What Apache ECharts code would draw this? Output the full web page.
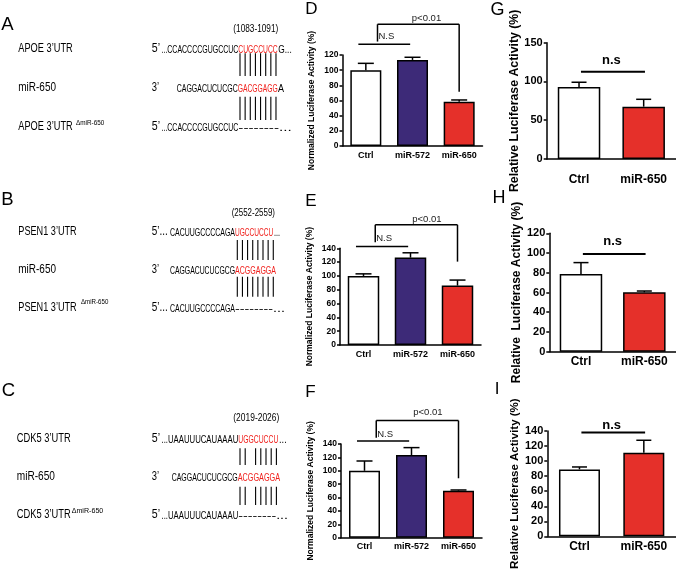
<!DOCTYPE html>
<html><head><meta charset="utf-8">
<script src="https://cdn.jsdelivr.net/npm/echarts@6/dist/echarts.min.js"></script>
<style>html,body{margin:0;padding:0;background:#fff}#c{width:676px;height:571px}</style>
</head><body><div id="c"></div>
<script>
// ---------- DATA ----------
const cats3 = ['Ctrl', 'miR-572', 'miR-650'];
const cats2 = ['Ctrl', 'miR-650'];
const dMean = [100, 113.5, 58.4], dErr = [9, 3.5, 2.3];
const eMean = [100, 126.5, 86],   eErr = [3, 7, 8];
const fMean = [100, 123.6, 70.3], fErr = [14.6, 11, 1];
const gMean = [93, 67.5], gErr = [6, 9.5];
const hMean = [78.8, 60.2], hErr = [11.5, 1.3];
const iMean = [89, 111], iErr = [3.2, 16.7];
const yNameNorm = 'Normalized Luciferase Activity (%)';
const yNameRel = 'Relative Luciferase Activity (%)';
const yNameRelH = 'Relative  Luciferase Activity (%)';
// significance annotations (category fraction, values)
const sig3 = {
  D: {ns: [-0.16, 0.95, 134.2], nsText: [0.27, 145], p: [0.25, 2, 160.5, 137.7, 71.6], pText: [1.3, 168.5]},
  E: {ns: [-0.16, 0.95, 142.5], nsText: [0.27, 155], p: [0.25, 2, 174, 148.8, 120.7], pText: [1.35, 182.6]},
  F: {ns: [-0.16, 0.95, 144.5], nsText: [0.27, 154.7], p: [0.25, 2, 175, 149.5, 88.8], pText: [1.35, 187.3]}
};
const sig2 = {
  G: {ns: [0.03, 1.02, 112.6], nsText: [0.5, 127.7]},
  H: {ns: [0.03, 1.02, 99], nsText: [0.5, 111.6]},
  I: {ns: [0.03, 1.02, 138], nsText: [0.5, 147.3]}
};

// ---------- STYLE / LAYOUT ----------
const FF = '"Liberation Sans", Arial, sans-serif';
const C3 = ['#ffffff', '#3d2a78', '#e5302a'];
const C2 = ['#ffffff', '#e5302a'];
const panels = [
  {key:'D', cats:cats3, mean:dMean, err:dErr, colors:C3, grid:{left:342.5, top:55, width:140, height:91}, max:120, interval:20, barW:31, cap:8, tickFont:8.5, catFont:9, catMargin:5, yName:yNameNorm, nameFont:8.5, nameGap:26},
  {key:'E', cats:cats3, mean:eMean, err:eErr, colors:C3, grid:{left:340, top:248.3, width:141, height:96.7}, max:140, interval:20, barW:31.5, cap:8, tickFont:8.5, catFont:9, catMargin:5, yName:yNameNorm, nameFont:8.5, nameGap:26},
  {key:'F', cats:cats3, mean:fMean, err:fErr, colors:C3, grid:{left:341, top:444, width:141, height:93.7}, max:140, interval:20, barW:31, cap:8, tickFont:8.5, catFont:9, catMargin:4, yName:yNameNorm, nameFont:8.5, nameGap:26},
  {key:'G', cats:cats2, mean:gMean, err:gErr, colors:C2, grid:{left:546.7, top:42.7, width:131, height:116.3}, max:150, interval:50, barW:42.5, cap:7.5, tickFont:11, catFont:12, catMargin:15, yName:yNameRel, nameFont:12.3, nameGap:25},
  {key:'H', cats:cats2, mean:hMean, err:hErr, colors:C2, grid:{left:549.3, top:233.3, width:128, height:118.4}, max:120, interval:20, barW:42.5, cap:7.5, tickFont:11, catFont:12, catMargin:4, yName:yNameRelH, nameFont:12, nameGap:27},
  {key:'I', cats:cats2, mean:iMean, err:iErr, colors:C2, grid:{left:547.3, top:431, width:130, height:117.3}, max:140, interval:20, barW:41, cap:7.5, tickFont:11, catFont:12, catMargin:4, yName:yNameRel, nameFont:11.5, nameGap:25}
];

const chart = echarts.init(document.getElementById('c'), null, {renderer:'canvas'});
const grids = [], xAxes = [], yAxes = [], series = [];
panels.forEach((p, k) => {
  grids.push(Object.assign({containLabel:false}, p.grid));
  xAxes.push({type:'category', gridIndex:k, data:p.cats,
    axisLine:{show:true, lineStyle:{color:'#000', width:1.5}}, axisTick:{show:false},
    axisLabel:{color:'#000', fontWeight:'bold', fontSize:p.catFont, margin:p.catMargin, fontFamily:FF, interval:0}});
  yAxes.push({type:'value', gridIndex:k, min:0, max:p.max, interval:p.interval,
    splitLine:{show:false},
    axisLine:{show:true, lineStyle:{color:'#000', width:1.5}},
    axisTick:{show:true, length:3, lineStyle:{color:'#000', width:1.5}},
    axisLabel:{color:'#000', fontWeight:'bold', fontSize:p.tickFont, margin:4, fontFamily:FF},
    name:p.yName, nameLocation:'middle', nameRotate:90, nameGap:p.nameGap,
    nameTextStyle:{color:'#000', fontWeight:'bold', fontSize:p.nameFont, fontFamily:FF}});
  series.push({type:'bar', xAxisIndex:k, yAxisIndex:k, barWidth:p.barW, animation:false, silent:true,
    itemStyle:{borderColor:'#000', borderWidth:1.5},
    data:p.mean.map((v, i) => ({value:v, itemStyle:{color:p.colors[i], borderColor:'#000', borderWidth:1.5}}))});
  const cap = p.cap;
  series.push({type:'custom', xAxisIndex:k, yAxisIndex:k, animation:false, silent:true, z:5,
    encode:{x:0, y:1},
    data:p.mean.map((v, i) => [i, v, p.err[i]]),
    renderItem:(params, api) => {
      const i = api.value(0), m = api.value(1), e = api.value(2);
      const top = api.coord([i, m + e]), base = api.coord([i, m]);
      const st = {stroke:'#000', lineWidth:1.5};
      return {type:'group', children:[
        {type:'line', shape:{x1:top[0], y1:base[1], x2:top[0], y2:top[1]}, style:st},
        {type:'line', shape:{x1:top[0]-cap, y1:top[1], x2:top[0]+cap, y2:top[1]}, style:st}
      ]};
    }});
});
chart.setOption({animation:false, backgroundColor:'#fff', grid:grids, xAxis:xAxes, yAxis:yAxes, series:series});

// ---------- GRAPHICS ----------
const g = [];
const mctx = document.createElement('canvas').getContext('2d');
function txt(text, x, y, size, color, opts) {
  opts = opts || {};
  const font = (opts.weight || 'normal') + ' ' + size + 'px ' + FF;
  const el = {type:'text', x:x, y:y, silent:true,
    style:{text:text, font:font, fill:color, textAlign:opts.align || 'left', align:opts.align || 'left',
      textVerticalAlign:'middle', verticalAlign:'middle'}};
  if (opts.x1 !== undefined) {
    mctx.font = font;
    const w = mctx.measureText(text).width;
    el.scaleX = (opts.x1 - x) / w;
  }
  return el;
}
function line(x1, y1, x2, y2, w) {
  return {type:'line', silent:true, shape:{x1:x1, y1:y1, x2:x2, y2:y2}, style:{stroke:'#000', lineWidth:w || 1.5}};
}
// panel letters
[['A',7.5,25,18.5],['B',7.5,200,18.5],['C',8.5,391,18.5],['D',311.5,9.5,17],['E',311,201,17],['F',310.5,392.5,17],
 ['G',497.5,10,18],['H',499,198.5,18],['I',497,389,17]].forEach(l => g.push(txt(l[0], l[1], l[2], l[3], '#000', {align:'center'})));

const RED = '#f0201c';
const SQ = 10.8;
// sequence diagrams: [text, x0, x1, y, size, color]
const seqText = [
  // A
  ['APOE 3’UTR', 18.3, 72.7, 48.3, 13, '#000'],
  ['miR-650', 18.3, 56, 87.3, 13, '#000'],
  ['APOE 3’UTR', 18.3, 72.7, 126, 13, '#000'],
  ['ΔmiR-650', 76, 104.3, 122.5, 7.5, '#000'],
  ['(1083-1091)', 233.3, 278.3, 29.3, 10.5, '#000'],
  ['5’', 151.7, 160, 48.3, 13, '#000'], ['...CCACCCCGUGCCUC', 161.5, 238.3, 50, SQ, '#000'], ['CUGCCUCC', 238.3, 277.7, 50, SQ, RED], ['G...', 278.3, 291.7, 50, SQ, '#000'],
  ['3’', 151.7, 159, 87.3, 13, '#000'], ['CAGGACUCUCGC', 176.7, 237.7, 89, SQ, '#000'], ['GACGGAGG', 237.7, 277.7, 89, SQ, RED], ['A', 278, 284, 89, SQ, '#000'],
  ['5’', 151.7, 160, 126, 13, '#000'], ['...CCACCCCGUGCCUC', 161.5, 238.3, 127.7, SQ, '#000'], ['--------...', 238.3, 291.7, 127.7, SQ, '#000'],
  // B
  ['PSEN1 3’UTR', 18.3, 76.7, 231.7, 13, '#000'],
  ['miR-650', 18.3, 56, 269.3, 13, '#000'],
  ['PSEN1 3’UTR', 18.3, 76.7, 307.7, 13, '#000'],
  ['ΔmiR-650', 81, 108.3, 301.7, 7.5, '#000'],
  ['(2552-2559)', 231.7, 275, 213.3, 10.5, '#000'],
  ['5’...', 151.7, 167.7, 231.7, 13, '#000'], ['CACUUGCCCCAGA', 170, 235, 233.4, SQ, '#000'], ['UGCCUCCU', 235, 273.3, 233.4, SQ, RED], ['...', 274, 280, 233.4, SQ, '#000'],
  ['3’', 151.7, 159, 269.3, 13, '#000'], ['CAGGACUCUCGCG', 170, 235, 271, SQ, '#000'], ['ACGGAGGA', 235, 276, 271, SQ, RED],
  ['5’...', 151.7, 167.7, 307.7, 13, '#000'], ['CACUUGCCCCAGA', 170, 235, 309.4, SQ, '#000'], ['--------...', 235, 285, 309.4, SQ, '#000'],
  // C
  ['CDK5 3’UTR', 16.7, 70.7, 438.3, 13, '#000'],
  ['miR-650', 16.7, 55, 476.5, 13, '#000'],
  ['CDK5 3’UTR', 16.7, 70.7, 514.3, 13, '#000'],
  ['ΔmiR-650', 71.7, 103.3, 510.5, 7.5, '#000'],
  ['(2019-2026)', 233.3, 279.3, 418.3, 10.5, '#000'],
  ['5’', 151.7, 160, 438.3, 13, '#000'], ['...UAAUUUCAUAAAU', 161.5, 238.3, 440, SQ, '#000'], ['UGGCUCCU', 238.3, 278.3, 440, SQ, RED], ['...', 279, 286.7, 440, SQ, '#000'],
  ['3’', 151.7, 159, 476.5, 13, '#000'], ['CAGGACUCUCGCG', 171.7, 237.7, 478.2, SQ, '#000'], ['ACGGAGGA', 237.7, 280, 478.2, SQ, RED],
  ['5’', 151.7, 160, 514.3, 13, '#000'], ['...UAAUUUCAUAAAU', 161.5, 238.3, 516, SQ, '#000'], ['--------...', 238.3, 288, 516, SQ, '#000']
];
seqText.forEach(t => g.push(txt(t[0], t[1], t[3], t[4], t[5], {x1:t[2]})));
// pairing bars: [startX, step, indices, yTop1, yBot1, yTop2, yBot2]
const pairBars = [
  [240, 5.14, [0,1,2,3,4,5,6,7], 53.3, 76, 96.7, 120],
  [237.3, 5.14, [0,1,2,3,4,5,6,7], 240, 260, 276.7, 296.7],
  [240, 5.2, [0,1,3,4,5,6,7], 448.3, 465, 486.7, 505]
];
pairBars.forEach(b => b[2].forEach(i => {
  const x = b[0] + b[1] * i;
  g.push(line(x, b[3], x, b[4], 1.1));
  g.push(line(x, b[5], x, b[6], 1.1));
}));

// significance annotations
function px(k, c, v) {
  const a = chart.convertToPixel({seriesIndex:k*2}, [0, v]);
  const b = chart.convertToPixel({seriesIndex:k*2}, [1, v]);
  return [a[0] + c * (b[0] - a[0]), a[1]];
}
['D','E','F'].forEach((key, k) => {
  const s = sig3[key];
  const a = px(k, s.ns[0], s.ns[2]), b = px(k, s.ns[1], s.ns[2]);
  g.push(line(a[0], a[1], b[0], b[1], 1.5));
  const nt = px(k, s.nsText[0], s.nsText[1]);
  g.push(txt('N.S', nt[0], nt[1], 9.5, '#222'));
  const tl = px(k, s.p[0], s.p[2]), tr = px(k, s.p[1], s.p[2]);
  const lb = px(k, s.p[0], s.p[3]), rb = px(k, s.p[1], s.p[4]);
  g.push(line(tl[0], tl[1], tr[0], tr[1], 1.5));
  g.push(line(tl[0], tl[1], lb[0], lb[1], 1.5));
  g.push(line(tr[0], tr[1], rb[0], rb[1], 1.5));
  const pt = px(k, s.pText[0], s.pText[1]);
  g.push(txt('p<0.01', pt[0], pt[1], 9.5, '#222', {align:'center'}));
});
['G','H','I'].forEach((key, j) => {
  const k = j + 3, s = sig2[key];
  const a = px(k, s.ns[0], s.ns[2]), b = px(k, s.ns[1], s.ns[2]);
  g.push(line(a[0], a[1], b[0], b[1], 2));
  const nt = px(k, s.nsText[0], s.nsText[1]);
  g.push(txt('n.s', nt[0], nt[1], 13, '#000', {align:'center', weight:'bold'}));
});
chart.setOption({graphic:{elements:g}});
</script>
</body></html>
